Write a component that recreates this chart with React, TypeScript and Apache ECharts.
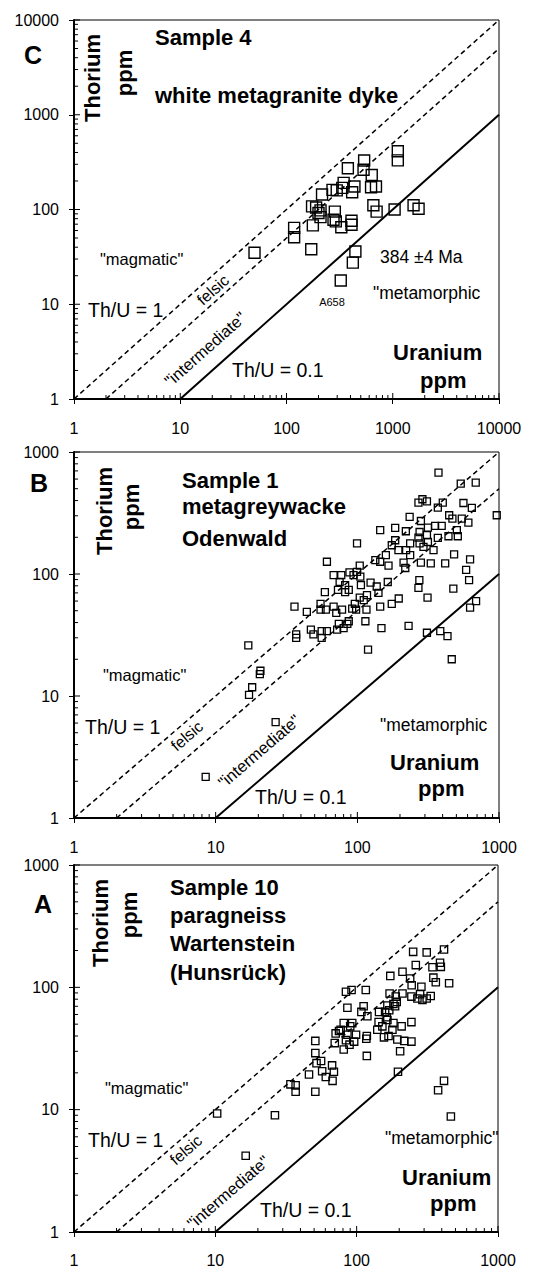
import React, { useEffect, useRef } from "react";
import * as echarts from "echarts";

const FONT = '"Liberation Sans", Arial, Helvetica, sans-serif';

// Panel C – Sample 4 (U ppm, Th ppm)
const cU = [50, 118, 118, 171, 177, 190, 209, 209, 216, 271, 285, 291, 297, 328, 335, 378, 415, 409, 409, 436, 445, 421, 324, 538, 531, 634, 625, 695, 657, 705, 1041, 1116, 1116, 1570, 1750, 345, 277, 174, 200];
const cTh = [35, 64, 51, 38, 68, 105, 98, 83, 144, 161, 95, 75, 159, 65, 169, 272, 152, 76, 69, 175, 36, 27.5, 17.8, 329, 263, 231, 172, 175, 111, 95, 100, 412, 330, 111, 102, 191, 78, 108, 92];

// Panel B – Sample 1
const bU = [374, 537, 685, 270, 288, 310, 401, 561, 643, 370, 234, 145, 185, 281, 354, 394, 445, 469, 608, 546, 964, 220, 275, 315, 310, 270, 440, 512, 504, 99.5, 175, 195, 221, 236, 275, 293, 315, 370, 345, 185, 134, 145, 159, 166, 212, 236, 218, 281, 330, 417, 482, 625, 586, 615, 104, 105, 99.5, 61, 68, 77, 75, 88, 94, 82, 87, 82, 73, 59, 106, 117, 124, 137, 141, 164, 274, 270, 476, 196, 175, 145, 313, 96, 111, 104, 55, 60, 68, 71, 78, 92, 98, 116, 44, 36, 55, 114, 87, 85, 74, 80, 72, 61, 56, 49, 56, 47, 37, 37, 148, 230, 310, 385, 433, 119, 464, 689, 625, 17, 20.7, 20.5, 18.1, 17.2, 26.5, 8.5];
const bTh = [678, 551, 561, 385, 410, 394, 385, 382, 348, 350, 294, 229, 239, 272, 248, 248, 303, 284, 264, 284, 303, 224, 221, 240, 208, 199, 204, 204, 229, 178, 172, 157, 157, 178, 178, 167, 183, 198, 157, 189, 130, 126, 143, 117, 124, 143, 112, 124, 122, 122, 145, 132, 108, 89, 117, 95, 104, 126, 98, 98, 86, 103, 98, 81, 74, 71, 74, 71, 81, 67, 85, 79, 70, 86, 89, 77, 76, 63, 57, 54, 64, 57, 61, 64, 57, 51, 54, 48, 51, 52, 51, 51, 49, 54, 51, 41, 41, 39, 39, 36, 35, 34, 34, 32, 30, 35, 32, 30, 36, 37.5, 33, 34, 31, 24, 20, 60, 53, 26, 16.1, 15.1, 11.8, 10.2, 6.1, 2.17];

// Panel A – Sample 10
const aU = [251, 313, 415, 262, 344, 389, 394, 349, 363, 451, 239, 245, 287, 281, 244, 269, 313, 292, 334, 173, 211, 171, 189, 211, 192, 182, 187, 84, 92, 116, 86, 112, 108, 119, 144, 165, 159, 163, 170, 143, 152, 165, 182, 208, 244, 81, 93, 90, 71, 77, 75, 86, 99, 96, 84, 89, 81, 70, 117, 118, 140, 156, 168, 179, 194, 217, 244, 203, 118, 51, 51, 56, 52, 46, 57, 60.5, 67, 69, 67.5, 34, 37, 37, 51, 196, 415, 377, 464, 26.4, 10.3, 16.4];
const aTh = [195, 193, 204, 152, 146, 159, 147, 120, 110, 108, 118, 104, 101, 88, 84, 81, 81, 79, 85, 124, 134, 89, 84, 89, 76, 73, 70, 92, 95, 95, 68, 70, 63, 58, 63, 71, 63, 57, 65, 52, 48, 54, 51, 48, 52, 51, 51, 48, 42, 45, 44, 41, 41, 36, 37, 34, 31, 35, 38, 40, 45, 39, 40, 45, 37.5, 36.5, 36, 30, 27.5, 36.5, 29, 25, 24, 19.4, 20.6, 18.5, 23, 20.4, 17.2, 16.1, 15.8, 14, 14, 20.4, 17.2, 14.4, 8.8, 9.0, 9.3, 4.2];

// axes
const ticksC = [1, 10, 100, 1000, 10000];
const ticksAB = [1, 10, 100, 1000];
const minorSteps = [2, 3, 4, 5, 6, 7, 8, 9];
const thuRatios = [1, 0.5, 0.1];

const grids = [
  { left: 74, top: 20, width: 425, height: 379 },
  { left: 74, top: 452, width: 425, height: 366 },
  { left: 74, top: 865, width: 424, height: 367 },
];

type Ann = { t: string; x: number; y: number; size: number; bold?: boolean; rot?: number; align?: string };

function panelTexts(list: Ann[]) {
  return list.map((a) => ({
    type: "text",
    x: a.x,
    y: a.y,
    rotation: a.rot || 0,
    style: {
      text: a.t,
      fill: "#000",
      fontSize: a.size,
      fontWeight: a.bold ? "bold" : "normal",
      fontFamily: FONT,
      align: a.align || "left",
      verticalAlign: "middle",
    },
  }));
}

const deg = Math.PI / 180;

const annotations: Ann[] = [
  // C
  { t: "C", x: 33, y: 55, size: 25, bold: true, align: "center" },
  { t: "Thorium", x: 92, y: 78, size: 22, bold: true, rot: 90 * deg, align: "center" },
  { t: "ppm", x: 124, y: 73, size: 22, bold: true, rot: 90 * deg, align: "center" },
  { t: "Sample 4", x: 155, y: 37, size: 22, bold: true },
  { t: "white metagranite dyke", x: 155, y: 95, size: 22, bold: true },
  { t: '"magmatic"', x: 100, y: 259, size: 16.5 },
  { t: "Th/U = 1", x: 88, y: 310, size: 19.5 },
  { t: "felsic", x: 213, y: 290, size: 16, rot: 41.7 * deg, align: "center" },
  { t: '"intermediate"', x: 205, y: 349, size: 16.5, rot: 41.7 * deg, align: "center" },
  { t: "Th/U = 0.1", x: 232, y: 370, size: 19.5 },
  { t: "A658", x: 332, y: 302, size: 11, align: "center" },
  { t: "384 ±4 Ma", x: 380, y: 257, size: 17.5 },
  { t: '"metamorphic', x: 373, y: 293, size: 17.5 },
  { t: "Uranium", x: 393, y: 352, size: 22, bold: true },
  { t: "ppm", x: 420, y: 380, size: 22, bold: true },
  // B
  { t: "B", x: 39, y: 483, size: 25, bold: true, align: "center" },
  { t: "Thorium", x: 104, y: 511, size: 22, bold: true, rot: 90 * deg, align: "center" },
  { t: "ppm", x: 131, y: 507, size: 22, bold: true, rot: 90 * deg, align: "center" },
  { t: "Sample 1", x: 182, y: 480, size: 22, bold: true },
  { t: "metagreywacke", x: 182, y: 506, size: 22, bold: true },
  { t: "Odenwald", x: 182, y: 538, size: 22, bold: true },
  { t: '"magmatic"', x: 103, y: 675, size: 16.5 },
  { t: "Th/U = 1", x: 85, y: 727, size: 19.5 },
  { t: "felsic", x: 187, y: 736, size: 16, rot: 40.8 * deg, align: "center" },
  { t: '"intermediate"', x: 259, y: 751, size: 16.5, rot: 40.8 * deg, align: "center" },
  { t: "Th/U = 0.1", x: 255, y: 797, size: 19.5 },
  { t: '"metamorphic', x: 380, y: 725, size: 17.5 },
  { t: "Uranium", x: 390, y: 762, size: 22, bold: true },
  { t: "ppm", x: 418, y: 788, size: 22, bold: true },
  // A
  { t: "A", x: 43, y: 904, size: 25, bold: true, align: "center" },
  { t: "Thorium", x: 100, y: 923, size: 22, bold: true, rot: 90 * deg, align: "center" },
  { t: "ppm", x: 129, y: 915, size: 22, bold: true, rot: 90 * deg, align: "center" },
  { t: "Sample 10", x: 170, y: 887, size: 22, bold: true },
  { t: "paragneiss", x: 170, y: 915, size: 22, bold: true },
  { t: "Wartenstein", x: 170, y: 943, size: 22, bold: true },
  { t: "(Hunsrück)", x: 170, y: 972, size: 22, bold: true },
  { t: '"magmatic"', x: 105, y: 1088, size: 16.5 },
  { t: "Th/U = 1", x: 88, y: 1140, size: 19.5 },
  { t: "felsic", x: 186, y: 1150, size: 16, rot: 40.8 * deg, align: "center" },
  { t: '"intermediate"', x: 228, y: 1192, size: 16.5, rot: 40.8 * deg, align: "center" },
  { t: "Th/U = 0.1", x: 260, y: 1210, size: 19.5 },
  { t: '"metamorphic"', x: 385, y: 1138, size: 17.5 },
  { t: "Uranium", x: 402, y: 1177, size: 22, bold: true },
  { t: "ppm", x: 430, y: 1203, size: 22, bold: true },
];

function buildOption() {
  const panels = [
    { U: cU, Th: cTh, ticks: ticksC, sym: 11, bw: 1.4, xm: 21 },
    { U: bU, Th: bTh, ticks: ticksAB, sym: 7, bw: 1.3, xm: 21 },
    { U: aU, Th: aTh, ticks: ticksAB, sym: 7.3, bw: 1.3, xm: 20 },
  ];
  const xAxis: any[] = [];
  const yAxis: any[] = [];
  const series: any[] = [];
  panels.forEach((p, i) => {
    const max = p.ticks[p.ticks.length - 1];
    const common = {
      type: "log",
      logBase: 10,
      min: 1,
      max,
      gridIndex: i,
      splitLine: { show: false },
      axisLine: { show: true, lineStyle: { color: "#000", width: 2 } },
      axisTick: { show: true, inside: false, length: 5, lineStyle: { color: "#000", width: 1 } },
      minorTick: { show: false },
    };
    xAxis.push({
      ...common,
      axisLabel: { fontSize: 16, color: "#000", fontFamily: FONT, margin: p.xm, formatter: (v: number) => String(Math.round(v)) },
    });
    yAxis.push({
      ...common,
      axisLabel: { fontSize: 16, color: "#000", fontFamily: FONT, margin: 15, formatter: (v: number) => String(Math.round(v)) },
    });
    // inner tick marks (minor and major)
    const tickData: any[] = [];
    p.ticks.forEach((t, k) => {
      tickData.push([t, 1, 0, 6]);
      tickData.push([1, t, 1, 6]);
      if (k < p.ticks.length - 1) {
        minorSteps.forEach((m) => {
          tickData.push([t * m, 1, 0, 4]);
          tickData.push([1, t * m, 1, 4]);
        });
      }
    });
    series.push({
      type: "custom",
      xAxisIndex: i,
      yAxisIndex: i,
      silent: true,
      clip: false,
      encode: { x: 0, y: 1 },
      data: tickData,
      renderItem: (params: any, api: any) => {
        const pt = api.coord([api.value(0), api.value(1)]);
        const isY = api.value(2) === 1;
        const len = api.value(3);
        return {
          type: "line",
          shape: isY
            ? { x1: pt[0], y1: pt[1], x2: pt[0] + len, y2: pt[1] }
            : { x1: pt[0], y1: pt[1], x2: pt[0], y2: pt[1] - len },
          style: { stroke: "#000", lineWidth: 1 },
        };
      },
    });
    // Th/U reference lines
    thuRatios.forEach((r) => {
      series.push({
        type: "line",
        xAxisIndex: i,
        yAxisIndex: i,
        symbol: "none",
        silent: true,
        data: [
          [1 / r, 1],
          [max, max * r],
        ],
        lineStyle: r === 0.1 ? { color: "#000", width: 2 } : { color: "#000", width: 1.5, type: [5, 3.5] },
        z: 3,
      });
    });
    series.push({
      type: "scatter",
      xAxisIndex: i,
      yAxisIndex: i,
      symbol: "rect",
      symbolSize: p.sym,
      data: p.U.map((u, k) => [u, p.Th[k]]),
      itemStyle: { color: "rgba(255,255,255,0)", borderColor: "#000", borderWidth: p.bw, opacity: 1 },
      z: 4,
    });
  });
  return {
    animation: false,
    backgroundColor: "#fff",
    grid: grids.map((g) => ({ ...g, show: true, borderColor: "#000", borderWidth: 1, backgroundColor: "transparent" })),
    xAxis,
    yAxis,
    series,
    graphic: { elements: panelTexts(annotations) },
  };
}

export default function App() {
  const ref = useRef<HTMLDivElement>(null);
  useEffect(() => {
    if (!ref.current) return;
    const chart = echarts.init(ref.current, undefined, { renderer: "svg" });
    chart.setOption(buildOption() as any);
    return () => chart.dispose();
  }, []);
  return (
    <div
      ref={ref}
      style={{ position: "absolute", left: 0, top: 0, width: 538, height: 1270, background: "#fff" }}
    />
  );
}
